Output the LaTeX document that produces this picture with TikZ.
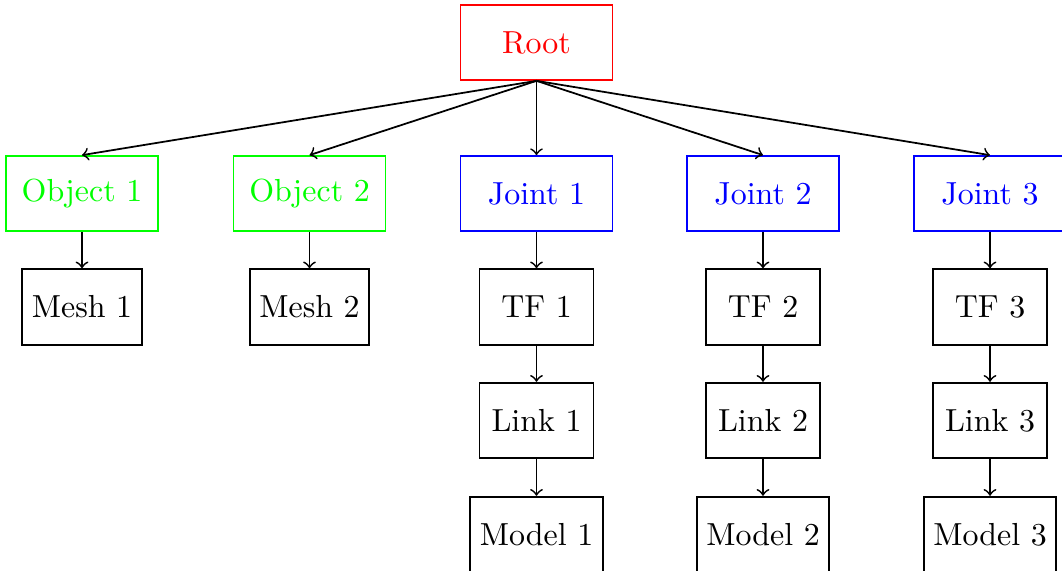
\documentclass[tikz,border=0pt]{standalone}
\begin{document}
\begin{tikzpicture}[x=0.3135pt,y=-0.3135pt, line width=0.55pt,
  box/.style={draw, rectangle, inner xsep=3pt, inner ysep=0pt},
  topbox/.style={box, minimum width=47.6pt, minimum height=23.5pt},
  leafbox/.style={box, minimum width=35.7pt, minimum height=23.7pt},
  link/.style={->}]
\useasboundingbox (0,0) rectangle (1062,571);
\node[topbox, red] (root) at (536.5,42.5) {Root};
\node[topbox, green] (o1) at (82,193.5) {Object 1};
\node[topbox, green] (o2) at (309.5,193.5) {Object 2};
\node[topbox, blue] (j1) at (536.5,193.5) {Joint 1};
\node[topbox, blue] (j2) at (763,193.5) {Joint 2};
\node[topbox, blue] (j3) at (990,193.5) {Joint 3};
\node[leafbox] (m1) at (82,307) {Mesh 1};
\node[leafbox] (m2) at (309.5,307) {Mesh 2};
\node[leafbox] (t1) at (536.5,307) {TF 1};
\node[leafbox] (t2) at (763,307) {TF 2};
\node[leafbox] (t3) at (990,307) {TF 3};
\node[leafbox] (l1) at (536.5,420.5) {Link 1};
\node[leafbox] (l2) at (763,420.5) {Link 2};
\node[leafbox] (l3) at (990,420.5) {Link 3};
\node[leafbox] (d1) at (536.5,534.5) {Model 1};
\node[leafbox] (d2) at (763,534.5) {Model 2};
\node[leafbox] (d3) at (990,534.5) {Model 3};
\foreach \c in {o1,o2,j1,j2,j3} \draw[link] (root.south) -- (\c.north);
\draw[link] (o1) -- (m1);
\draw[link] (o2) -- (m2);
\draw[link] (j1) -- (t1);
\draw[link] (j2) -- (t2);
\draw[link] (j3) -- (t3);
\draw[link] (t1) -- (l1);
\draw[link] (t2) -- (l2);
\draw[link] (t3) -- (l3);
\draw[link] (l1) -- (d1);
\draw[link] (l2) -- (d2);
\draw[link] (l3) -- (d3);
\end{tikzpicture}
\end{document}
